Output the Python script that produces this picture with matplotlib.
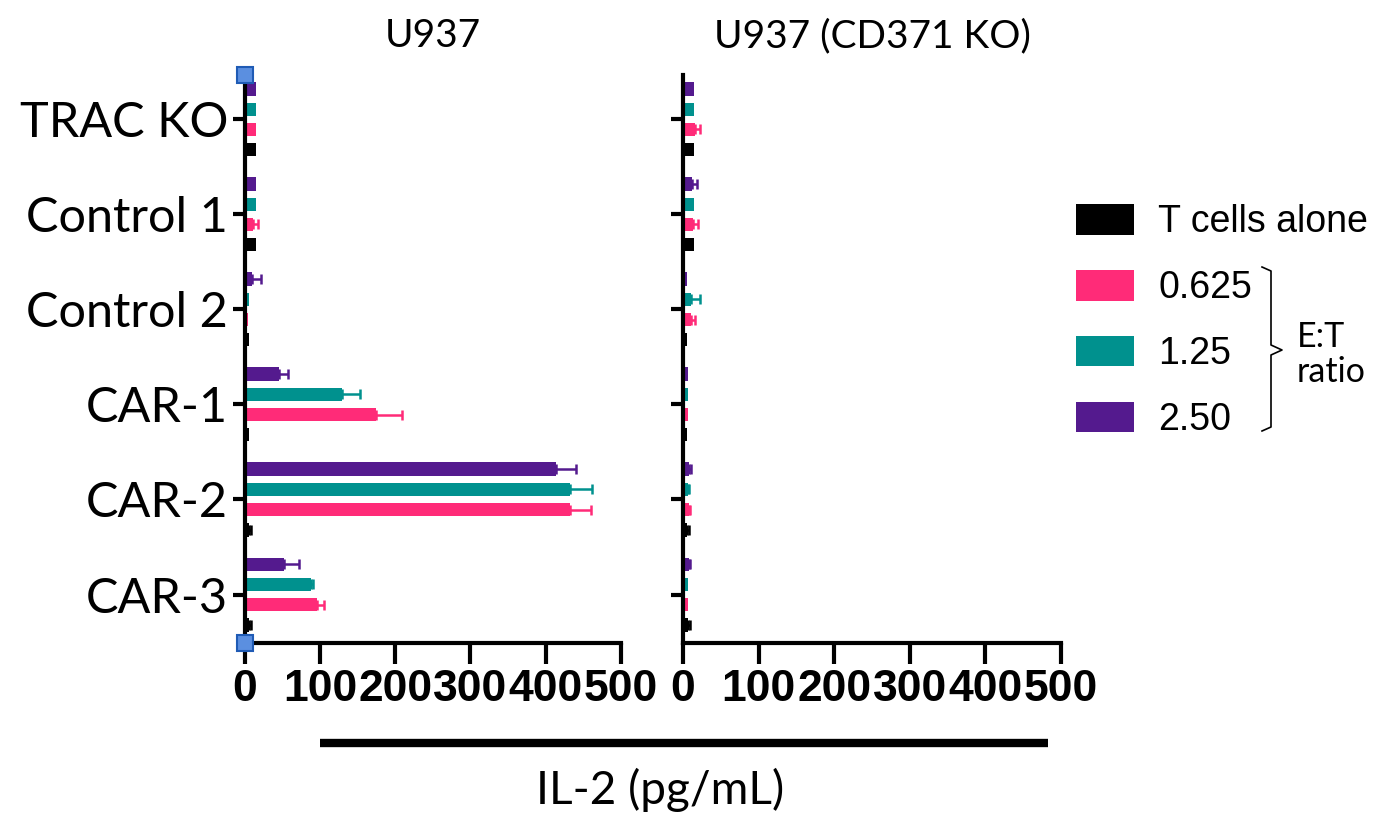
import matplotlib
matplotlib.use("Agg")
import matplotlib.pyplot as plt
import numpy as np
from matplotlib.patches import Patch
from matplotlib.lines import Line2D

categories = ["TRAC KO", "Control 1", "Control 2", "CAR-1", "CAR-2", "CAR-3"]
series_names = ["T cells alone", "0.625", "1.25", "2.50"]
series_colors = ["#000000", "#FF2B78", "#00918E", "#541A8E"]
panel_titles = ["U937", "U937 (CD371 KO)"]

# U937 panel
u937_alone = [15, 15, 6, 6, 6, 6]
u937_alone_err = [0, 0, 0, 0, 2, 3]
u937_0625 = [15, 11, 5, 175, 432, 96]
u937_0625_err = [0, 7, 0, 34, 28, 10]
u937_125 = [15, 15, 6, 129, 432, 88]
u937_125_err = [0, 0, 0, 24, 30, 3]
u937_250 = [15, 15, 10, 46, 414, 53]
u937_250_err = [0, 0, 12, 11, 26, 19]

# U937 (CD371 KO) panel
ko_alone = [15, 15, 5, 5, 5, 6]
ko_alone_err = [0, 0, 0, 0, 3, 3]
ko_0625 = [16, 13, 10, 6, 8, 6]
ko_0625_err = [7, 7, 6, 0, 1, 0]
ko_125 = [15, 15, 10, 6, 7, 6]
ko_125_err = [0, 0, 13, 0, 1, 0]
ko_250 = [15, 12, 5, 7, 8, 8]
ko_250_err = [0, 7, 0, 0, 2, 1]

x_ticks = [0, 100, 200, 300, 400, 500]

panels = [
    ([u937_alone, u937_0625, u937_125, u937_250],
     [u937_alone_err, u937_0625_err, u937_125_err, u937_250_err]),
    ([ko_alone, ko_0625, ko_125, ko_250],
     [ko_alone_err, ko_0625_err, ko_125_err, ko_250_err]),
]

W, H = 1398, 825
fig = plt.figure(figsize=(W / 100, H / 100), dpi=100)

def fx(px):
    return px / W

def fy(py):
    return 1 - py / H

ax_bottom = fy(643)
ax_height = fy(75) - fy(643)
ax_l = fig.add_axes([fx(244.6), ax_bottom, fx(621) - fx(244.6), ax_height])
ax_r = fig.add_axes([fx(683), ax_bottom, fx(1061) - fx(683), ax_height])

ypos = np.arange(len(categories))
# order from top within each group: 2.50, 1.25, 0.625, T cells alone
offsets = {3: -1.5, 2: -0.5, 1: 0.5, 0: 1.5}
step = 0.213
bar_h = 0.14

for ax, (vals, errs), title in zip([ax_l, ax_r], panels, panel_titles):
    for i in range(4):
        y = ypos + offsets[i] * step
        v = np.array(vals[i], dtype=float)
        e = np.array(errs[i], dtype=float)
        ax.barh(y, v, height=bar_h, color=series_colors[i], zorder=2)
        m = e > 0
        if m.any():
            ax.errorbar(v[m], y[m], xerr=[np.zeros(m.sum()), e[m]], fmt="none",
                        ecolor=series_colors[i], elinewidth=1.8, capsize=3.5,
                        capthick=1.8, zorder=2)
    ax.set_xlim(0, 500)
    ax.set_ylim(5.51, -0.466)
    ax.set_xticks(x_ticks)
    ax.set_xticklabels([str(t) for t in x_ticks], fontfamily="Liberation Sans",
                       fontweight="bold", fontsize=32)
    ax.set_yticks(ypos)
    for s in ["top", "right"]:
        ax.spines[s].set_visible(False)
    for s in ["left", "bottom"]:
        ax.spines[s].set_linewidth(3)
        ax.spines[s].set_zorder(3)
    ax.tick_params(axis="y", length=9, width=3, pad=3)
    ax.tick_params(axis="x", length=15, width=3, pad=4)
    ax.set_title(title, fontfamily="Lato", fontsize=28, pad=20)

ax_l.set_yticklabels(categories, fontfamily="Lato", fontsize=35)
ax_r.set_yticklabels([])

# corner handles visible in the reference
for yy in [0, 1]:
    ax_l.plot([0], [yy], transform=ax_l.transAxes, marker="s", markersize=12,
              markerfacecolor="#5B8FE0", markeredgecolor="#1F5BB5",
              markeredgewidth=1.5, clip_on=False, zorder=10)

# horizontal bar under axes
fig.add_artist(Line2D([fx(320), fx(1048)], [fy(743), fy(743)], color="black",
                      linewidth=6, solid_capstyle="butt"))
fig.text(fx(660), fy(790), "IL-2 (pg/mL)", ha="center", va="center",
         fontfamily="Lato", fontsize=33)

# legend
handles = [Patch(facecolor=c, edgecolor="none") for c in series_colors]
leg = fig.legend(handles, series_names, loc="upper left",
                 bbox_to_anchor=(fx(1076), fy(204)), frameon=False,
                 prop={"family": "Liberation Sans", "size": 27},
                 handlelength=1.55, handleheight=0.88, handletextpad=0.65,
                 labelspacing=0.79, borderpad=0, borderaxespad=0)

# bracket for E:T ratio
bx = [1262, 1271, 1271, 1282, 1271, 1271, 1262]
by = [267, 271, 345, 350, 355, 427, 431]
fig.add_artist(Line2D([fx(p) for p in bx], [fy(p) for p in by], color="black",
                      linewidth=1.2))
fig.text(fx(1297), fy(347), "E:T", ha="left", va="baseline",
         fontfamily="Lato", fontsize=24.5)
fig.text(fx(1297), fy(382), "ratio", ha="left", va="baseline",
         fontfamily="Lato", fontsize=24.5)

fig.savefig("out.png", dpi=100)
